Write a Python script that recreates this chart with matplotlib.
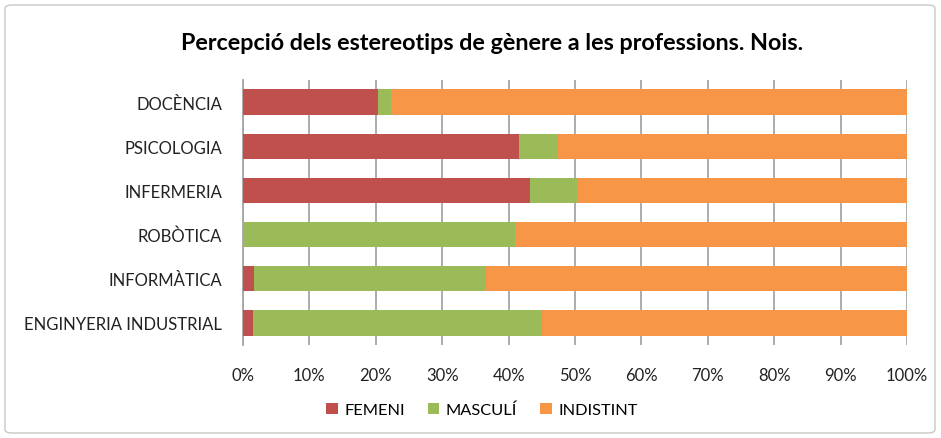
import matplotlib.pyplot as plt
from matplotlib.patches import FancyBboxPatch
from matplotlib.ticker import FuncFormatter

# Data (percentages)
categories = ["DOCÈNCIA", "PSICOLOGIA", "INFERMERIA", "ROBÒTICA",
              "INFORMÀTICA", "ENGINYERIA INDUSTRIAL"]
femeni = [20.4, 41.6, 43.2, 0.0, 1.7, 1.5]
masculi = [1.9, 5.8, 7.1, 41.0, 34.9, 43.5]
indistint = [77.7, 52.6, 49.7, 59.0, 63.4, 55.0]
series_names = ["FEMENI", "MASCULÍ", "INDISTINT"]
colors = ["#C0504D", "#9BBB59", "#F79646"]

plt.rcParams['font.family'] = ['Lato', 'DejaVu Sans']

fig = plt.figure(figsize=(9.41, 4.39), dpi=100)
ax = fig.add_axes([243 / 941, 1 - 346 / 439, (907 - 243) / 941, (346 - 81) / 439])

# Chart border
fig.patches.append(FancyBboxPatch((5 / 941, 5 / 439), 930 / 941, 428 / 439,
                                  boxstyle="round,pad=0,rounding_size=0.008",
                                  transform=fig.transFigure, fill=False,
                                  edgecolor="#c8c8c8", linewidth=1))

y = list(range(len(categories)))
left = [0.0] * len(categories)
for vals, name, col in zip([femeni, masculi, indistint], series_names, colors):
    ax.barh(y, vals, left=left, height=0.57, color=col, label=name, zorder=3)
    left = [a + b for a, b in zip(left, vals)]

ax.set_ylim(len(categories) - 0.5, -0.5)
ax.set_xlim(0, 100)
ax.set_xticks(range(0, 101, 10))
ax.xaxis.set_major_formatter(FuncFormatter(lambda v, p: f"{v:.0f}%"))
ax.set_yticks(y)
ax.set_yticklabels(categories)
ax.tick_params(axis="both", length=0, labelsize=12, colors="#222222")
ax.tick_params(axis="x", pad=16)
ax.tick_params(axis="y", pad=15)

ax.grid(axis="x", color="#a6a6a6", linewidth=1.3, zorder=0)
for side in ["top", "right", "bottom"]:
    ax.spines[side].set_visible(False)
ax.spines["left"].set_color("#a6a6a6")
ax.spines["left"].set_linewidth(1.3)

fig.text(492 / 941, 1 - 43 / 439, "Percepció dels estereotips de gènere a les professions. Nois.",
         ha="center", va="center", fontsize=16.8, fontweight="bold")

fig.legend(loc="center", bbox_to_anchor=(482 / 941, 1 - 411 / 439), ncol=3,
           frameon=False, fontsize=11.8, handlelength=0.7, handleheight=0.7,
           handletextpad=0.4, columnspacing=1.4)

fig.savefig("out.png", dpi=100)
